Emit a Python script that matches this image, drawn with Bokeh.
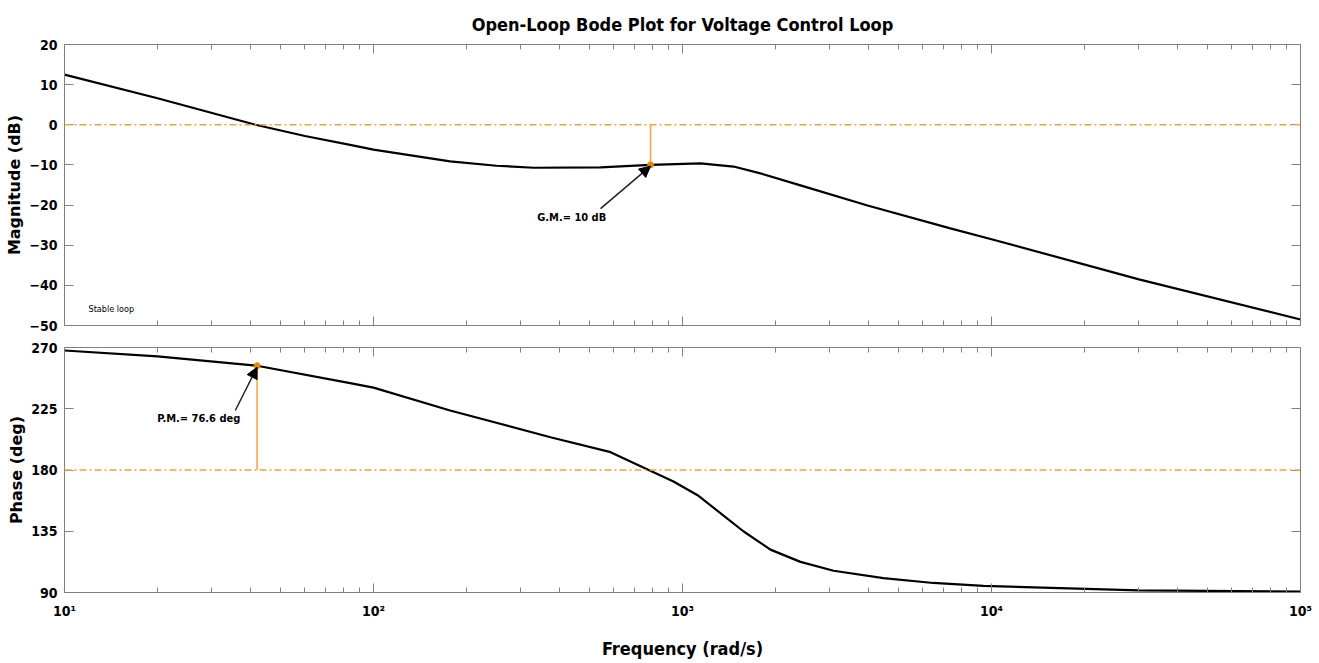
from bokeh.plotting import figure
from bokeh.layouts import column
from bokeh.models import (LogAxis, LinearAxis, FixedTicker, Arrow, NormalHead,
                          Span, Label, Range1d)
from bokeh.embed import file_html
from bokeh.resources import INLINE

# ---------------- data ----------------
freq_mag = [10, 20, 41.5, 60, 84, 100, 177, 250, 330, 543, 788, 1143, 1463,
            1787, 2409, 3970, 7360, 10000, 30000, 100000]
mag_db = [12.5, 6.6, 0.0, -2.8, -5.0, -6.2, -9.1, -10.2, -10.7, -10.6, -10.0,
          -9.6, -10.4, -12.1, -15.1, -20.1, -25.8, -28.5, -38.5, -48.5]

freq_ph = [10, 20, 42, 84, 100, 177, 374, 585, 771, 935, 1119, 1298, 1574,
           1926, 2409, 3083, 4470, 6480, 9418, 30000, 100000]
phase_deg = [267.8, 263.5, 256.6, 243.8, 240.5, 223.7, 204.1, 193.1, 180.4,
             171.6, 161.5, 150.0, 135.0, 121.5, 112.5, 106.0, 100.5, 97.0,
             94.8, 91.5, 90.7]

gm_freq, gm_mag = [788], [-10.0]
pm_freq, pm_phase = [42], [256.6]

x_major = [10, 100, 1000, 10000, 100000]
x_minor = [m * d for d in (10, 100, 1000, 10000) for m in range(2, 10)]
x_labels = {10: "10\u00b9", 100: "10\u00b2", 1000: "10\u00b3",
            10000: "10\u2074", 100000: "10\u2075"}
mag_ticks = [-50, -40, -30, -20, -10, 0, 10, 20]
ph_ticks = [90, 135, 180, 225, 270]

title_text = "Open-Loop Bode Plot for Voltage Control Loop"

# ---------------- styles ----------------
NARROW = "DejaVu Sans Condensed, Liberation Sans, sans-serif"
WIDE = "DejaVu Sans, sans-serif"
AX = "#808080"
ORANGE = "#EFA43A"
DOT = "#E08A00"


def style_axis(ax, labels=True):
    ax.axis_line_color = AX
    ax.major_tick_line_color = AX
    ax.minor_tick_line_color = AX
    ax.major_tick_in = 9
    ax.major_tick_out = 0
    ax.minor_tick_in = 5
    ax.minor_tick_out = 0
    ax.major_label_text_font = NARROW
    ax.major_label_text_font_style = "bold"
    ax.axis_label_text_color = "black"
    if labels:
        ax.major_label_text_font_size = "14px"
        ax.major_label_text_color = "black"
    else:
        ax.major_label_text_font_size = "1px"
        ax.major_label_text_color = None
        ax.major_label_standoff = 0


def make_fig(height, ylo, yhi, yticks, top, bottom, title=None):
    p = figure(width=1319, height=height, x_axis_type="log",
               x_range=Range1d(10, 1e5), y_range=Range1d(ylo, yhi),
               output_backend="svg", toolbar_location=None,
               min_border_left=64, min_border_right=19,
               min_border_top=top, min_border_bottom=bottom, title=title)
    p.grid.visible = False
    p.outline_line_color = None
    bottom_ax = p.xaxis[0]
    left_ax = p.yaxis[0]
    bottom_ax.ticker = FixedTicker(ticks=x_major, minor_ticks=x_minor)
    left_ax.ticker = FixedTicker(ticks=yticks)
    style_axis(bottom_ax)
    style_axis(left_ax)
    left_ax.minor_tick_line_color = None
    left_ax.major_label_standoff = 7
    top_ax = LogAxis(ticker=FixedTicker(ticks=x_major, minor_ticks=x_minor))
    style_axis(top_ax, labels=False)
    p.add_layout(top_ax, "above")
    right_ax = LinearAxis(ticker=FixedTicker(ticks=yticks))
    style_axis(right_ax, labels=False)
    right_ax.minor_tick_line_color = None
    p.add_layout(right_ax, "right")
    return p, bottom_ax, left_ax


# ---------------- magnitude ----------------
p1, x1ax, y1ax = make_fig(336, -50, 20, mag_ticks, 44, 11, title=title_text)
p1.title.align = "center"
p1.title.text_font = NARROW
p1.title.text_font_size = "18px"
p1.title.text_font_style = "bold"
p1.title.text_color = "black"
p1.title.standoff = 20
style_axis(x1ax, labels=False)
y1ax.axis_label = "Magnitude (dB)"
y1ax.axis_label_text_font = WIDE
y1ax.axis_label_text_font_style = "bold"
y1ax.axis_label_text_font_size = "16px"
y1ax.axis_label_standoff = 2

p1.add_layout(Span(location=0, dimension="width", line_color=ORANGE,
                   line_dash="7 3 2 3", line_width=1.5))
p1.line(freq_mag, mag_db, line_color="black", line_width=2.2)
p1.segment(x0=gm_freq, y0=[0], x1=gm_freq, y1=gm_mag, line_color=ORANGE,
           line_width=1.5)
p1.scatter(gm_freq, gm_mag, size=6, fill_color=DOT, line_color=DOT)
p1.add_layout(Arrow(end=NormalHead(size=11, fill_color="black",
                                   line_color="black"),
                    x_start=543, y_start=-20.9, x_end=gm_freq[0], y_end=-10.3,
                    line_width=1.5, line_color="#222222"))
p1.add_layout(Label(x=438, y=-23.1, text="G.M.= 10 dB", text_font=NARROW,
                    text_font_style="bold", text_font_size="11px",
                    text_color="black",
                    text_align="center", text_baseline="middle"))
p1.add_layout(Label(x=11.96, y=-46.0, text="Stable loop", text_font=NARROW,
                    text_font_size="9px", text_color="black",
                    text_align="left", text_baseline="middle"))

# ---------------- phase ----------------
p2, x2ax, y2ax = make_fig(327, 90, 270, ph_ticks, 11, 71)
x2ax.major_label_overrides = x_labels
x2ax.major_label_standoff = 10
x2ax.axis_label = "Frequency (rad/s)"
x2ax.axis_label_text_font = NARROW
x2ax.axis_label_text_font_style = "bold"
x2ax.axis_label_text_font_size = "18px"
x2ax.axis_label_standoff = 16
y2ax.axis_label = "Phase (deg)"
y2ax.axis_label_text_font = WIDE
y2ax.axis_label_text_font_style = "bold"
y2ax.axis_label_text_font_size = "16px"
y2ax.axis_label_standoff = 2

p2.add_layout(Span(location=180, dimension="width", line_color=ORANGE,
                   line_dash="7 3 2 3", line_width=1.5))
p2.line(freq_ph, phase_deg, line_color="black", line_width=2.2)
p2.segment(x0=pm_freq, y0=[180], x1=pm_freq, y1=pm_phase, line_color=ORANGE,
           line_width=1.5)
p2.scatter(pm_freq, pm_phase, size=6, fill_color=DOT, line_color=DOT)
p2.add_layout(Arrow(end=NormalHead(size=11, fill_color="black",
                                   line_color="black"),
                    x_start=35.7, y_start=223.7, x_end=pm_freq[0], y_end=255.5,
                    line_width=1.5, line_color="#222222"))
p2.add_layout(Label(x=27.2, y=217.8, text="P.M.= 76.6 deg", text_font=NARROW,
                    text_font_style="bold", text_font_size="11px",
                    text_color="black",
                    text_align="center", text_baseline="middle"))

layout = column(p1, p2, spacing=0)
open("out.html", "w").write(file_html(layout, INLINE))
